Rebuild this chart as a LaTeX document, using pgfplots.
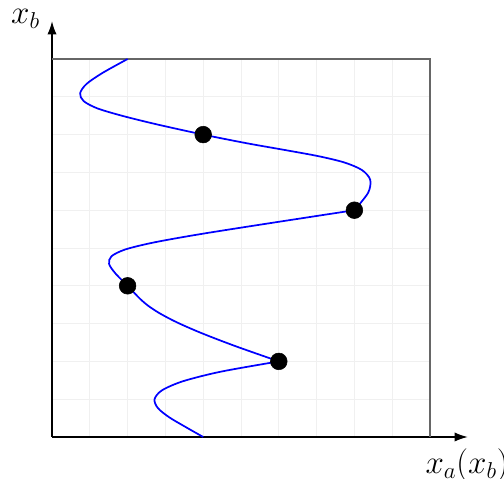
\documentclass[border=0pt]{standalone}
\usepackage{pgfplots}
\pgfplotsset{compat=1.18}
\usetikzlibrary{arrows.meta}

\begin{document}
\begin{tikzpicture}
\begin{axis}[
  x=1cm, y=1cm,
  xmin=0, xmax=10, ymin=0, ymax=10,
  axis lines*=left,
  axis line style={line width=1pt, -{Latex[length=10pt,width=7pt]}, shorten >=-1cm},
  xtick={1,...,9}, ytick={1,...,9},
  xticklabels={}, yticklabels={},
  major tick length=0pt,
  grid=major,
  major grid style={black!6, line width=0.7pt},
  clip=false,
  xlabel={$x_a(x_b)$}, ylabel={$x_b$},
  label style={font=\fontsize{23}{28}\selectfont},
  xlabel style={at={(axis cs:10.98,-0.75)}, anchor=center},
  ylabel style={at={(axis cs:-0.70,11.05)}, anchor=center, rotate=-90},
]
% closing frame on the top and right
\addplot[black!60, line width=0.8pt] coordinates {(0,10) (10,10) (10,0)};

% the curve, drawn piece by piece between its corners
\addplot[blue, line width=1.3pt, smooth] coordinates {
  (4,0) (3.523,0.271) (3.098,0.523) (2.801,0.765) (2.713,1.0)
  (2.910,1.235) (3.471,1.477) (4.475,1.730) (6,2)
};
\addplot[blue, line width=1.3pt, smooth] coordinates {
  (6,2) (4.835,2.410) (3.956,2.748) (3.315,3.028) (2.864,3.263)
  (2.555,3.464) (2.340,3.645) (2.171,3.820) (2,4)
  (1.677,4.328) (1.510,4.580) (1.574,4.782) (1.944,4.963)
  (2.696,5.147) (3.905,5.364) (5.648,5.639) (8,6)
};
\addplot[blue, line width=1.3pt, smooth] coordinates {
  (8,6) (8.362,6.459) (8.418,6.805) (8.199,7.063) (7.733,7.263)
  (7.050,7.429) (6.180,7.589) (5.154,7.771) (4,8)
  (2.772,8.271) (1.866,8.495) (1.199,8.694) (0.836,8.888)
  (0.744,9.094) (0.913,9.340) (1.335,9.631) (2,10)
};

% marked points
\addplot[only marks, mark=*, mark size=6.3pt, black] coordinates {
  (4,8) (8,6) (2,4) (6,2)
};
\end{axis}
\pgfresetboundingbox
\path (-1.376,-1.111) rectangle (11.958,11.561);
\end{tikzpicture}
\end{document}
